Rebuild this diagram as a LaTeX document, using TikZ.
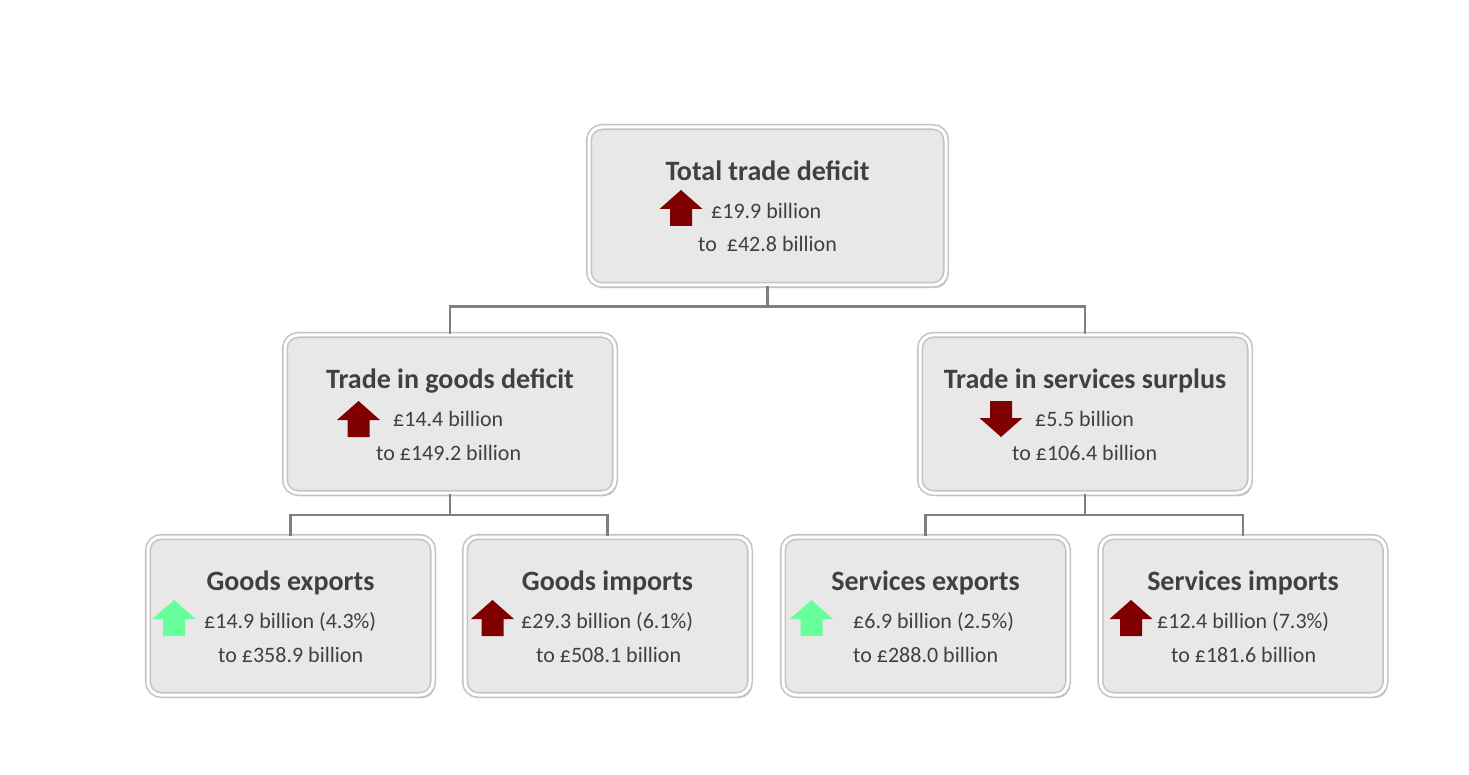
\documentclass[tikz,border=0pt]{standalone}
\usepackage{fontspec}
\setmainfont{Carlito}
\usetikzlibrary{shadows}
\definecolor{txt}{HTML}{404040}
\definecolor{boxfill}{HTML}{E8E8E8}
\definecolor{rim}{HTML}{C4C4C4}
\definecolor{conn}{HTML}{7F7F7F}
\definecolor{upred}{HTML}{800000}
\definecolor{upgreen}{HTML}{66FF99}
\tikzset{
  box/.style={draw=rim, line width=1.6pt, double=white, double distance=3pt,
    fill=boxfill, rounded corners=13pt,
    drop shadow={shadow xshift=2pt, shadow yshift=-3pt, fill=black!45, opacity=0.7},
    minimum height=158pt, inner sep=0pt},
  topbox/.style={box, minimum width=357pt},
  midbox/.style={box, minimum width=330pt},
  botbox/.style={box, minimum width=285pt},
  title/.style={font=\fontsize{28}{30}\selectfont\bfseries, text=txt, anchor=base, inner sep=0pt},
  body/.style={font=\fontsize{22}{24}\selectfont, text=txt, anchor=base west, inner sep=0pt},
  conline/.style={draw=conn, line width=2.6pt},
  redarrow/.style={fill=upred},
  greenarrow/.style={fill=upgreen}
}
\newcommand\uparr[3]{\fill[#3] (#1,#2) -- ++(21.5,19) -- ++(-10.5,0) -- ++(0,17) -- ++(-22,0) -- ++(0,-17) -- ++(-10.5,0) -- cycle;}
\newcommand\downarr[3]{\fill[#3] (#1,#2) -- ++(21.5,-19) -- ++(-10.5,0) -- ++(0,-17) -- ++(-22,0) -- ++(0,17) -- ++(-10.5,0) -- cycle;}
\begin{document}
\begin{tikzpicture}[x=1pt,y=-1pt]
\useasboundingbox (0,0) rectangle (1469,775);
\fill[white] (0,0) rectangle (1469,775);
% boxes
\node[topbox] (top) at (767.5,206) {};
\node[midbox] (ml) at (450,414) {};
\node[midbox] (mr) at (1085,414) {};
\node[botbox] (ge) at (290.5,616) {};
\node[botbox] (gi) at (607.5,616) {};
\node[botbox] (se) at (925.5,616) {};
\node[botbox] (si) at (1243,616) {};
% connectors
\draw[conline] (top.south) -- ++(0,21) coordinate (tj) -| (ml.north);
\draw[conline] (tj) -| (mr.north);
\draw[conline] (ml.south) -- ++(0,21) coordinate (lj) -| (ge.north);
\draw[conline] (lj) -| (gi.north);
\draw[conline] (mr.south) -- ++(0,21) coordinate (rj) -| (se.north);
\draw[conline] (rj) -| (si.north);
% top box text
\node[title] (ttop) at (767.5,180.5) {Total trade deficit};
\node[body] (t1) at (711,218.5) {£19.9 billion};
\node[body] (t2) at (698,251.5) {to\ \ £42.8 billion};
\uparr{681}{190}{redarrow}
% middle left
\node[title] (tml) at (450,388.5) {Trade in goods deficit};
\node[body] (ml1) at (393,426.5) {£14.4 billion};
\node[body] (ml2) at (376,460.5) {to £149.2 billion};
\uparr{358.5}{401}{redarrow}
% middle right
\node[title] (tmr) at (1085,388.5) {Trade in services surplus};
\node[body] (mr1) at (1035,426.5) {£5.5 billion};
\node[body] (mr2) at (1012,460.5) {to £106.4 billion};
\downarr{1001}{437}{redarrow}
% bottom
\node[title] (tge) at (290.5,590.5) {Goods exports};
\node[body] (ge1) at (204,628.5) {£14.9 billion (4.3\%)};
\node[body] (ge2) at (218,662.5) {to £358.9 billion};
\uparr{174}{600}{greenarrow}
\node[title] (tgi) at (607.5,590.5) {Goods imports};
\node[body] (gi1) at (521,628.5) {£29.3 billion (6.1\%)};
\node[body] (gi2) at (536,662.5) {to £508.1 billion};
\uparr{492.5}{600}{redarrow}
\node[title] (tse) at (925.5,590.5) {Services exports};
\node[body] (se1) at (853,628.5) {£6.9 billion (2.5\%)};
\node[body] (se2) at (853,662.5) {to £288.0 billion};
\uparr{811.5}{600}{greenarrow}
\node[title] (tsi) at (1243,590.5) {Services imports};
\node[body] (si1) at (1157,628.5) {£12.4 billion (7.3\%)};
\node[body] (si2) at (1171,662.5) {to £181.6 billion};
\uparr{1131}{600}{redarrow}
\end{tikzpicture}
\end{document}
